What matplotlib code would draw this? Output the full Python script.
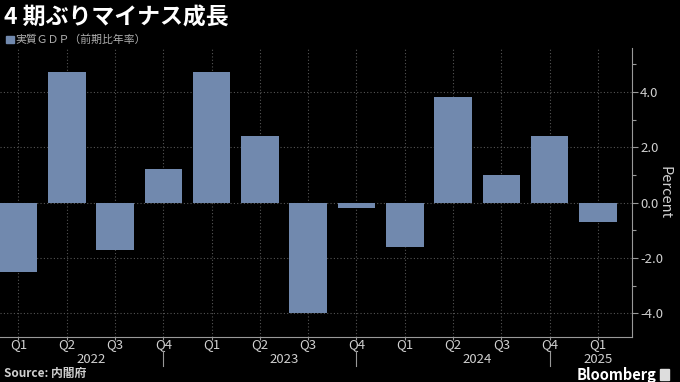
import matplotlib
matplotlib.use("Agg")
import matplotlib.pyplot as plt
import numpy as np

plt.rcParams['font.family'] = ['Noto Sans CJK JP', 'DejaVu Sans']

# データ: 実質GDP (前期比年率, %)
quarters = ["Q1", "Q2", "Q3", "Q4", "Q1", "Q2", "Q3", "Q4", "Q1", "Q2", "Q3", "Q4", "Q1"]
years = ["2022", "2023", "2024", "2025"]
gdp = [-2.5, 4.7, -1.7, 1.2, 4.7, 2.4, -4.0, -0.2, -1.6, 3.8, 1.0, 2.4, -0.7]
yticks = [4.0, 2.0, 0.0, -2.0, -4.0]

bar_color = "#7189ae"
grid_color = "#555555"
text_color = "#d0d0d0"
axis_color = "#999999"

fig = plt.figure(figsize=(6.8, 3.82), dpi=100, facecolor="black")
ax = fig.add_axes([0.0, 0.118, 0.929, 0.756])
ax.set_facecolor("black")

x = np.arange(len(gdp))
ax.bar(x, gdp, width=0.78, color=bar_color, zorder=3)

ax.set_xlim(-0.383, 12.7)
ax.set_ylim(-4.85, 5.58)

# Gitter
ax.set_yticks(yticks)
ax.set_yticks([5.0, 3.0, 1.0, -1.0, -3.0], minor=True)
ax.set_yticklabels([f"{v:.1f}" for v in yticks])
ax.set_xticks(x)
ax.set_xticklabels(quarters)
ax.grid(True, which="major", color=grid_color, linestyle=(0, (1, 2)), linewidth=0.8, zorder=0)

for s in ["top", "left"]:
    ax.spines[s].set_visible(False)
for s in ["right", "bottom"]:
    ax.spines[s].set_color(axis_color)
    ax.spines[s].set_linewidth(0.8)

ax.yaxis.tick_right()
ax.yaxis.set_label_position("right")
ax.tick_params(axis="y", which="both", colors=axis_color, labelcolor=text_color,
               labelsize=9.5, direction="out", length=4, width=0.8, pad=2)
ax.tick_params(axis="y", which="minor", length=3)
ax.tick_params(axis="x", colors=axis_color, labelcolor=text_color, labelsize=9.5,
               direction="out", length=2, width=0.8, pad=-1)
ax.set_ylabel("Percent", color=text_color, fontsize=10.5, rotation=-90, labelpad=6)

# Jahresbeschriftungen
trans = ax.get_xaxis_transform()
for i, yr in enumerate(years):
    qs = x[i * 4:(i + 1) * 4]
    ax.text(qs.mean(), -0.079, yr, transform=trans, ha="center", va="center",
            color=text_color, fontsize=9.5, clip_on=False)
for i in range(3, len(gdp), 4):
    ax.plot([x[i], x[i]], [-0.048, -0.10], transform=trans, color=axis_color,
            linewidth=0.8, clip_on=False)

# Titel und Legende
fig.text(0.006, 0.952, "4 期ぶりマイナス成長", color="white", fontsize=16.5,
         fontweight="bold", ha="left", va="center")
fig.patches.append(plt.Rectangle((0.009, 0.888), 0.011, 0.019, transform=fig.transFigure,
                                 color=bar_color, figure=fig))
fig.text(0.023, 0.897, "実質ＧＤＰ（前期比年率）", color="#b0b0b0", fontsize=7.8,
         ha="left", va="center")

fig.text(0.006, 0.022, "Source: 内閣府", color=text_color, fontsize=8.5,
         fontweight="bold", ha="left", va="center")
fig.text(0.965, 0.018, "Bloomberg", color="white", fontsize=10.5,
         fontweight="bold", ha="right", va="center")
fig.patches.append(plt.Rectangle((0.97, 0.006), 0.014, 0.028, transform=fig.transFigure,
                                 color="#dddddd", figure=fig))

fig.savefig("out.png", dpi=100, facecolor="black")
